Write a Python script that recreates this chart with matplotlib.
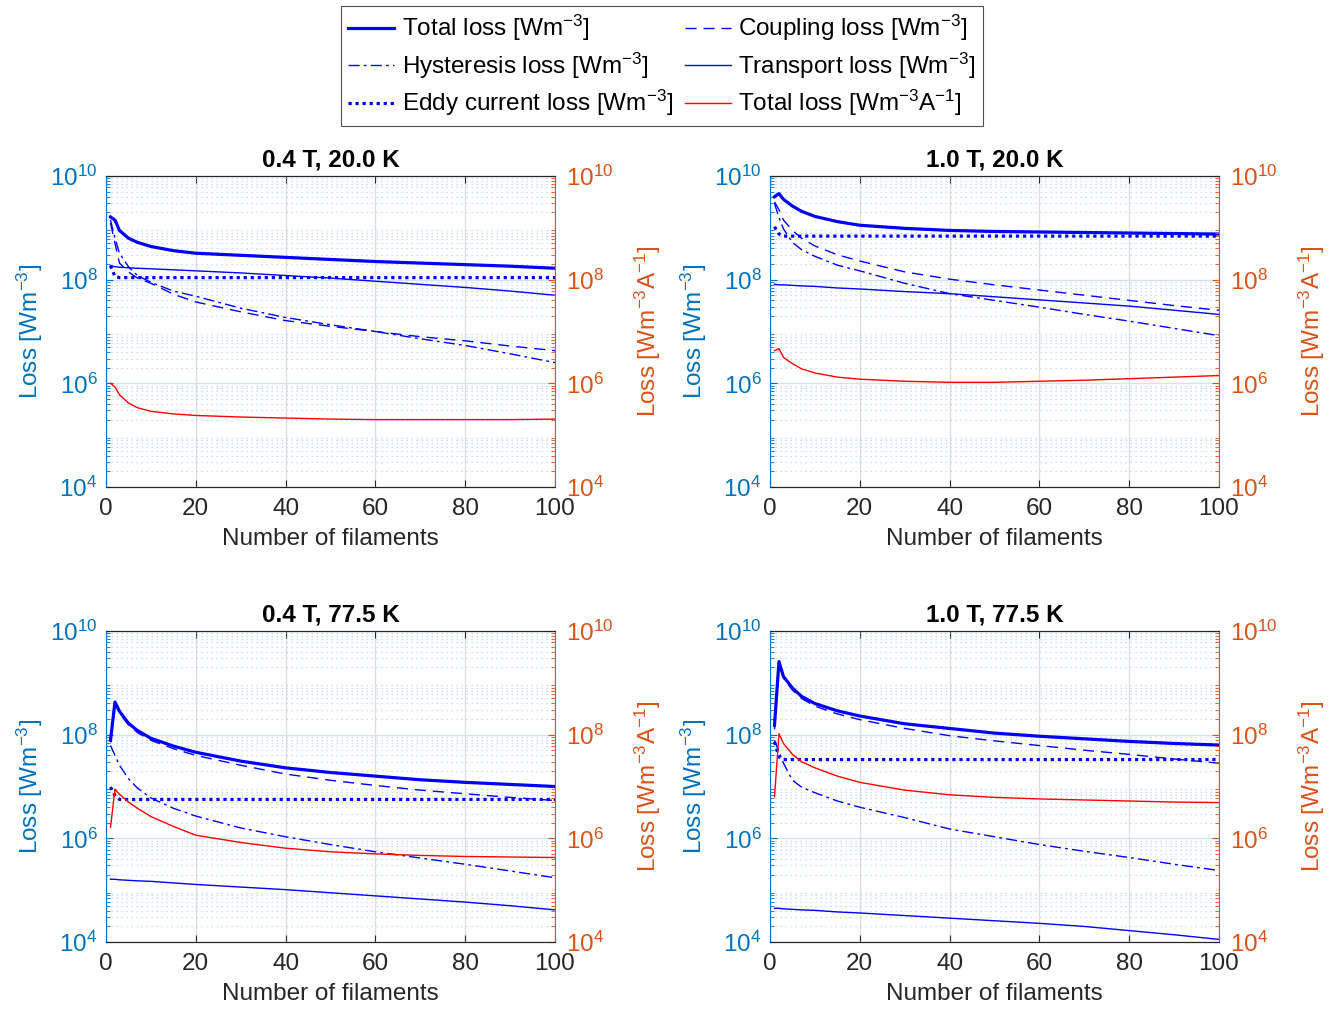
import numpy as np
import matplotlib
matplotlib.use("Agg")
import matplotlib.pyplot as plt
from matplotlib.lines import Line2D
from matplotlib.ticker import LogLocator, NullFormatter, FixedLocator

#-------------------------------------------------------------------------
#                               Data (log10 of loss)
#-------------------------------------------------------------------------
filaments = [1, 2, 3, 5, 7, 10, 15, 20, 30, 40, 50, 60, 70, 80, 90, 100]

# 0.4 T, 20.0 K
tl_total = [9.21, 9.15, 8.95, 8.80, 8.72, 8.64, 8.56, 8.51, 8.47, 8.43, 8.39, 8.35, 8.32, 8.29, 8.26, 8.22]
tl_coup = [9.09, 8.70, 8.32, 8.15, 8.03, 7.93, 7.72, 7.57, 7.38, 7.21, 7.10, 7.00, 6.90, 6.82, 6.72, 6.63]
tl_hyst = [9.15, 8.80, 8.51, 8.25, 8.08, 7.95, 7.78, 7.68, 7.45, 7.27, 7.13, 7.00, 6.86, 6.73, 6.57, 6.40]
tl_trans = [8.27, 8.25, 8.24, 8.23, 8.22, 8.21, 8.19, 8.17, 8.13, 8.08, 8.03, 7.97, 7.91, 7.85, 7.78, 7.70]
tl_eddy = [8.27, 8.06, 8.04, 8.04, 8.04, 8.04, 8.04, 8.04, 8.04, 8.04, 8.04, 8.04, 8.04, 8.04, 8.04, 8.04]
tl_perA = [6.00, 5.93, 5.78, 5.62, 5.53, 5.46, 5.41, 5.38, 5.35, 5.33, 5.31, 5.30, 5.30, 5.30, 5.30, 5.31]

# 1.0 T, 20.0 K
tr_total = [9.60, 9.66, 9.55, 9.42, 9.32, 9.22, 9.12, 9.05, 8.99, 8.95, 8.93, 8.92, 8.91, 8.90, 8.89, 8.88]
tr_coup = [9.50, 9.35, 9.15, 8.95, 8.80, 8.65, 8.48, 8.36, 8.15, 8.01, 7.90, 7.80, 7.70, 7.60, 7.50, 7.41]
tr_hyst = [9.47, 9.20, 8.98, 8.72, 8.58, 8.45, 8.28, 8.17, 7.93, 7.73, 7.60, 7.47, 7.33, 7.20, 7.06, 6.92]
tr_trans = [7.91, 7.90, 7.90, 7.89, 7.88, 7.87, 7.84, 7.82, 7.77, 7.73, 7.67, 7.61, 7.55, 7.49, 7.41, 7.33]
tr_eddy = [9.02, 8.88, 8.84, 8.84, 8.84, 8.84, 8.84, 8.84, 8.84, 8.84, 8.84, 8.84, 8.84, 8.84, 8.84, 8.84]
tr_perA = [6.63, 6.67, 6.50, 6.38, 6.28, 6.20, 6.12, 6.08, 6.04, 6.02, 6.02, 6.04, 6.06, 6.09, 6.12, 6.15]

# 0.4 T, 77.5 K
bl_total = [7.89, 8.63, 8.45, 8.22, 8.08, 7.93, 7.78, 7.66, 7.49, 7.36, 7.27, 7.20, 7.13, 7.08, 7.04, 7.00]
bl_coup = [7.85, 8.60, 8.42, 8.19, 8.04, 7.89, 7.73, 7.60, 7.41, 7.24, 7.12, 7.02, 6.93, 6.86, 6.79, 6.73]
bl_hyst = [7.79, 7.60, 7.41, 7.15, 6.97, 6.78, 6.58, 6.43, 6.20, 6.03, 5.88, 5.74, 5.62, 5.50, 5.37, 5.24]
bl_trans = [5.21, 5.21, 5.20, 5.19, 5.18, 5.17, 5.14, 5.11, 5.06, 5.01, 4.95, 4.89, 4.83, 4.77, 4.70, 4.62]
bl_eddy = [6.99, 6.83, 6.75, 6.75, 6.75, 6.75, 6.75, 6.75, 6.75, 6.75, 6.75, 6.75, 6.75, 6.75, 6.75, 6.75]
bl_perA = [6.21, 6.95, 6.85, 6.70, 6.58, 6.42, 6.23, 6.06, 5.92, 5.81, 5.74, 5.70, 5.67, 5.65, 5.64, 5.63]

# 1.0 T, 77.5 K
br_total = [8.18, 9.41, 9.12, 8.90, 8.74, 8.60, 8.46, 8.36, 8.21, 8.12, 8.03, 7.97, 7.92, 7.87, 7.83, 7.80]
br_coup = [8.10, 9.38, 9.09, 8.86, 8.70, 8.55, 8.40, 8.29, 8.12, 7.98, 7.88, 7.79, 7.70, 7.62, 7.53, 7.45]
br_hyst = [7.89, 7.67, 7.45, 7.12, 6.99, 6.88, 6.72, 6.60, 6.40, 6.18, 6.03, 5.88, 5.75, 5.63, 5.50, 5.38]
br_trans = [4.65, 4.65, 4.64, 4.63, 4.62, 4.61, 4.58, 4.56, 4.51, 4.46, 4.41, 4.36, 4.30, 4.22, 4.14, 4.05]
br_eddy = [7.86, 7.57, 7.52, 7.52, 7.52, 7.52, 7.52, 7.52, 7.52, 7.52, 7.52, 7.52, 7.52, 7.52, 7.52, 7.52]
br_perA = [6.80, 8.02, 7.83, 7.62, 7.48, 7.36, 7.20, 7.08, 6.93, 6.84, 6.79, 6.76, 6.74, 6.72, 6.70, 6.69]

titles = ["0.4 T, 20.0 K", "1.0 T, 20.0 K", "0.4 T, 77.5 K", "1.0 T, 77.5 K"]
xticks = [0, 20, 40, 60, 80, 100]

#-------------------------------------------------------------------------
#                               Style
#-------------------------------------------------------------------------
plt.rcParams['font.family'] = ['Liberation Sans', 'DejaVu Sans']
plt.rcParams['mathtext.fontset'] = 'custom'
plt.rcParams['mathtext.rm'] = 'Liberation Sans'
plt.rcParams['mathtext.it'] = 'Liberation Sans:italic'
plt.rcParams['mathtext.bf'] = 'Liberation Sans:bold'
plt.rcParams['mathtext.default'] = 'regular'

FS = 17.5
LEFT_C = '#0072BD'
RIGHT_C = '#D95319'
AX_C = '#262626'
BLUE = '#0000FF'
RED = '#FF0000'

#-------------------------------------------------------------------------
#                               Panel
#-------------------------------------------------------------------------
def panel(fig, rect, title, total, coup, hyst, trans, eddy, per_a):
    ax = fig.add_axes(rect)
    x = np.array(filaments)
    p = lambda v: 10 ** np.array(v)

    ax.plot(x, p(total), color=BLUE, lw=2.3)
    ax.plot(x, p(coup), color=BLUE, lw=1.0, ls=(0, (8, 5)))
    ax.plot(x, p(hyst), color=BLUE, lw=1.0, ls=(0, (8, 3, 2, 3)))
    ax.plot(x, p(trans), color=BLUE, lw=1.0)
    ax.plot(x, p(eddy), color=BLUE, lw=2.3, ls=(0, (1, 1.2)))

    ax.set_yscale('log')
    ax.set_ylim(1e4, 1e10)
    ax.set_xlim(0, 100)
    ax.set_xticks(xticks)
    ax.yaxis.set_major_locator(FixedLocator([1e4, 1e6, 1e8, 1e10]))
    ax.yaxis.set_minor_locator(LogLocator(base=10, subs=np.arange(2, 10), numticks=20))
    ax.yaxis.set_minor_formatter(NullFormatter())

    # grid
    ax.grid(True, axis='x', which='major', color='#dedede', lw=1.0)
    ax.grid(True, axis='y', which='major', color='#d5e3ee', lw=1.0)
    ax.grid(True, axis='y', which='minor', color='#b9d7ee', lw=0.9, ls=(0, (1, 3)))
    ax.set_axisbelow(True)

    ax.tick_params(axis='x', which='both', direction='in', top=True, length=5,
                   labelsize=FS, colors=AX_C, pad=8)
    ax.tick_params(axis='y', which='both', direction='in', right=False,
                   labelsize=FS, colors=LEFT_C, pad=6)
    ax.tick_params(axis='y', which='major', length=5)
    ax.tick_params(axis='y', which='minor', length=3)

    ax.spines['left'].set_color(LEFT_C)
    ax.spines['right'].set_visible(False)
    ax.spines['top'].set_color(AX_C)
    ax.spines['bottom'].set_color(AX_C)

    ax.set_xlabel('Number of filaments', fontsize=FS, color=AX_C, labelpad=6)
    ax.set_ylabel('Loss [Wm$^{-3}$]', fontsize=FS, color=LEFT_C, labelpad=4)
    ax.set_title(title, fontsize=FS, fontweight='bold', pad=7)

    ax2 = ax.twinx()
    ax2.plot(x, p(per_a), color=RED, lw=1.0)
    ax2.set_yscale('log')
    ax2.set_ylim(1e4, 1e10)
    ax2.yaxis.set_major_locator(FixedLocator([1e4, 1e6, 1e8, 1e10]))
    ax2.yaxis.set_minor_locator(LogLocator(base=10, subs=np.arange(2, 10), numticks=20))
    ax2.yaxis.set_minor_formatter(NullFormatter())
    ax2.tick_params(axis='y', which='both', direction='in', labelsize=FS,
                    colors=RIGHT_C, pad=8)
    ax2.tick_params(axis='y', which='major', length=5)
    ax2.tick_params(axis='y', which='minor', length=3)
    ax2.spines['right'].set_color(RIGHT_C)
    ax2.spines['left'].set_visible(False)
    ax2.spines['top'].set_color(AX_C)
    ax2.spines['bottom'].set_color(AX_C)
    ax2.set_ylabel('Loss [Wm$^{-3}$A$^{-1}$]', fontsize=FS, color=RIGHT_C, labelpad=14)
    return ax, ax2

#-------------------------------------------------------------------------
#                              Main
#-------------------------------------------------------------------------
if __name__ == "__main__":
    fig = plt.figure(figsize=(13.3, 10.09), dpi=100)

    w, h = 449 / 1330, 311 / 1009
    l1, l2 = 106 / 1330, 770 / 1330
    b1, b2 = 1 - 487 / 1009, 1 - 942 / 1009

    panel(fig, [l1, b1, w, h], titles[0], tl_total, tl_coup, tl_hyst, tl_trans, tl_eddy, tl_perA)
    panel(fig, [l2, b1, w, h], titles[1], tr_total, tr_coup, tr_hyst, tr_trans, tr_eddy, tr_perA)
    panel(fig, [l1, b2, w, h], titles[2], bl_total, bl_coup, bl_hyst, bl_trans, bl_eddy, bl_perA)
    panel(fig, [l2, b2, w, h], titles[3], br_total, br_coup, br_hyst, br_trans, br_eddy, br_perA)

    # legend (column-wise order so rows read like the MATLAB one)
    handles = [
        Line2D([], [], color=BLUE, lw=2.3),
        Line2D([], [], color=BLUE, lw=1.0, ls=(0, (8, 3, 2, 3))),
        Line2D([], [], color=BLUE, lw=2.3, ls=(0, (1, 1.2))),
        Line2D([], [], color=BLUE, lw=1.0, ls=(0, (8, 5))),
        Line2D([], [], color=BLUE, lw=1.0),
        Line2D([], [], color=RED, lw=1.0),
    ]
    labels = [
        'Total loss [Wm$^{-3}$]',
        'Hysteresis loss [Wm$^{-3}$]',
        'Eddy current loss [Wm$^{-3}$]',
        'Coupling loss [Wm$^{-3}$]',
        'Transport loss [Wm$^{-3}$]',
        'Total loss [Wm$^{-3}$A$^{-1}$]',
    ]
    leg = fig.legend(handles, labels, ncol=2, loc='upper center',
                     bbox_to_anchor=(662 / 1330, 1 - 6 / 1009), fontsize=FS,
                     frameon=True, fancybox=False, edgecolor=AX_C,
                     handlelength=1.9, handletextpad=0.3, columnspacing=0.5,
                     labelspacing=0.3, borderpad=0.3, borderaxespad=0)
    leg.get_frame().set_linewidth(0.8)

    fig.savefig('out.png', dpi=100)
